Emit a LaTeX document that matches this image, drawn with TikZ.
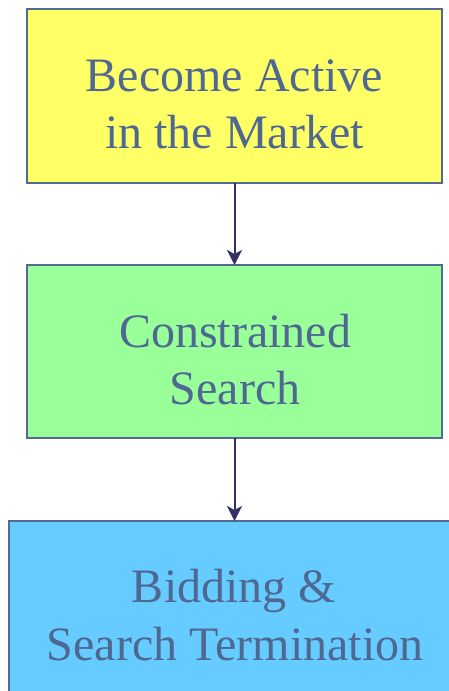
\documentclass[tikz,border=0pt]{standalone}
\usepackage{fontspec}
\setmainfont{Liberation Serif}
\usetikzlibrary{arrows.meta}
\definecolor{boxline}{RGB}{82,106,145}
\definecolor{txtcol}{RGB}{78,104,146}
\definecolor{arrcol}{RGB}{50,50,100}
\definecolor{yel}{RGB}{255,255,102}
\definecolor{grn}{RGB}{153,255,153}
\definecolor{blu}{RGB}{102,204,255}
\tikzset{
  stagebox/.style={draw=boxline, line width=2pt, inner sep=0pt, outer sep=0pt},
  linetext/.style={anchor=base, inner sep=0pt, text=txtcol, font=\fontsize{48}{57}\selectfont},
  flowarrow/.style={draw=arrcol, line width=2pt, -{Stealth[length=15pt,width=15pt,inset=4pt]}}
}
\begin{document}
\begin{tikzpicture}[x=1pt,y=-1pt]
\useasboundingbox (0,0) rectangle (449,691);
\clip (0,0) rectangle (449,691);
\fill[white] (0,0) rectangle (449,691);
\node[stagebox, fill=yel, minimum width=415pt, minimum height=174pt] (b1) at (234.5,96) {};
\node[stagebox, fill=grn, minimum width=415pt, minimum height=173pt] (b2) at (234.5,351.5) {};
\node[stagebox, fill=blu, minimum width=451pt, minimum height=200pt] (b3) at (234.5,621) {};
\node[linetext] (t1a) at (234.5,91) {Become Active};
\node[linetext] (t1b) at (234.5,148) {in the Market};
\node[linetext] (t2a) at (235,347) {Constrained};
\node[linetext] (t2b) at (235,404) {Search};
\node[linetext] (t3a) at (234,602) {Bidding \&};
\node[linetext] (t3b) at (235,660) {Search Termination};
\draw[flowarrow] (b1.south) -- (b2.north);
\draw[flowarrow] (b2.south) -- (b3.north);
\end{tikzpicture}
\end{document}
